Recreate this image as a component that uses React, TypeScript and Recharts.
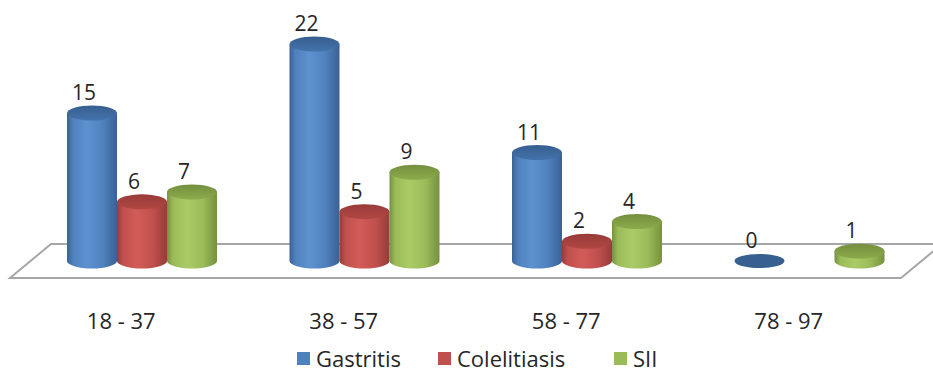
import React from 'react';
import { BarChart, Bar, XAxis, YAxis, Legend, LabelList, Customized } from 'recharts';

// Age ranges on the category axis
const ageGroups = ['18 - 37', '38 - 57', '58 - 77', '78 - 97'];

// Patients per diagnosis and age range
const gastritis: (number | null)[] = [15, 22, 11, 0];
const colelitiasis: (number | null)[] = [6, 5, 2, null];
const sii: (number | null)[] = [7, 9, 4, 1];

const seriesKeys = ['gastritis', 'colelitiasis', 'sii'];
const seriesNames = ['Gastritis', 'Colelitiasis', 'SII'];

const data = ageGroups.map((group, i) => ({
  group,
  gastritis: gastritis[i],
  colelitiasis: colelitiasis[i],
  sii: sii[i],
}));

const W = 933;
const H = 373;
const MARGIN = { top: 44, right: 12, bottom: 52, left: 31 };
const AXIS_H = 60;
const FONT = '"Open Sans", "DejaVu Sans", sans-serif';
const TEXT = '#262626';
const RY = 7.5;

type Palette = { base: string; light: string; edge: string; top: string; topDark: string };
const palettes: Record<string, Palette> = {
  gastritis: { base: '#4f81bd', light: '#5d92d0', edge: '#3a6195', top: '#4373ab', topDark: '#375f90' },
  colelitiasis: { base: '#c0504d', light: '#d25c58', edge: '#973b39', top: '#b14744', topDark: '#983c39' },
  sii: { base: '#9bbb59', light: '#aacb66', edge: '#769140', top: '#8bab4c', topDark: '#748f3e' },
};

// Floor plane and gradient definitions, laid out from the plot geometry
const plotBottom = H - MARGIN.bottom - AXIS_H;
const Floor = () => {
  const back = plotBottom - 17;
  const front = plotBottom + 17;
  const pts = `10,${front} 51,${back} 942,${back} 901,${front}`;
  return (
    <g>
      <defs>
        {seriesKeys.map((k) => {
          const p = palettes[k];
          return (
            <React.Fragment key={k}>
              <linearGradient id={`body-${k}`} x1="0" y1="0" x2="1" y2="0">
                <stop offset="0" stopColor={p.edge} />
                <stop offset="0.12" stopColor={p.base} />
                <stop offset="0.4" stopColor={p.light} />
                <stop offset="0.72" stopColor={p.base} />
                <stop offset="1" stopColor={p.edge} />
              </linearGradient>
              <linearGradient id={`top-${k}`} x1="0" y1="0" x2="0" y2="1">
                <stop offset="0" stopColor={p.topDark} />
                <stop offset="1" stopColor={p.top} />
              </linearGradient>
            </React.Fragment>
          );
        })}
      </defs>
      <polygon points={pts} fill="#ffffff" stroke="#a6a6a6" strokeWidth={2} />
    </g>
  );
};

const makeCylinder = (key: string) => (props: any) => {
  const { x, y, width, height, value } = props;
  if (value == null || x == null || y == null) return <g />;
  const cx = x + width / 2;
  const rx = width / 2;
  const bottom = y + height;
  if (height < 0.5) {
    return <ellipse cx={cx} cy={bottom} rx={rx} ry={RY - 0.5} fill={palettes[key].topDark} />;
  }
  return (
    <g>
      <path
        d={`M${x},${y} L${x},${bottom} A${rx},${RY} 0 0 0 ${x + width},${bottom} L${x + width},${y} Z`}
        fill={`url(#body-${key})`}
      />
      <ellipse cx={cx} cy={y} rx={rx} ry={RY} fill={`url(#top-${key})`} />
    </g>
  );
};

const ValueLabel = (props: any) => {
  const { x, y, width, value } = props;
  if (value == null || x == null) return null;
  return (
    <text
      x={x + width / 2 - 8}
      y={y - 13}
      textAnchor="middle"
      fontFamily={FONT}
      fontSize={21}
      fill={TEXT}
    >
      {value}
    </text>
  );
};

const AgeTick = (props: any) => {
  const { x, y, payload } = props;
  return (
    <text x={x - 21} y={y} dy={60} textAnchor="middle" fontFamily={FONT} fontSize={22} fill={TEXT}>
      {payload.value}
    </text>
  );
};

// Width reserved for each legend entry (swatch + name + spacing)
const legendItemWidths = [141, 176, 60];

const LegendContent = () => (
  <div
    style={{
      display: 'flex',
      justifyContent: 'flex-start',
      alignItems: 'center',
      fontFamily: FONT,
      fontSize: 22,
      color: TEXT,
      height: 30,
      paddingLeft: 297,
    }}
  >
    {seriesKeys.map((k, i) => (
      <div key={k} style={{ display: 'flex', alignItems: 'center', width: legendItemWidths[i] }}>
        <span
          style={{
            display: 'inline-block',
            width: 13,
            height: 13,
            background: palettes[k].base,
            marginRight: 6,
          }}
        />
        <span>{seriesNames[i]}</span>
      </div>
    ))}
  </div>
);

export default function App() {
  return (
    <div style={{ position: 'absolute', left: 0, top: 0, background: '#fff' }}>
      <BarChart width={W} height={H} data={data} margin={MARGIN} barGap={0} barSize={50}>
        <Customized component={Floor} />
        <XAxis
          dataKey="group"
          height={AXIS_H}
          axisLine={false}
          tickLine={false}
          tick={<AgeTick />}
          interval={0}
        />
        <YAxis hide domain={[0, 22]} />
        {seriesKeys.map((k, i) => (
          <Bar
            key={k}
            dataKey={k}
            name={seriesNames[i]}
            fill={palettes[k].base}
            shape={makeCylinder(k)}
            isAnimationActive={false}
          >
            <LabelList dataKey={k} content={<ValueLabel />} />
          </Bar>
        ))}
        <Legend
          verticalAlign="middle"
          layout="horizontal"
          content={<LegendContent />}
          wrapperStyle={{ top: 343, left: 0, width: W, height: 30 }}
        />
      </BarChart>
    </div>
  );
}
